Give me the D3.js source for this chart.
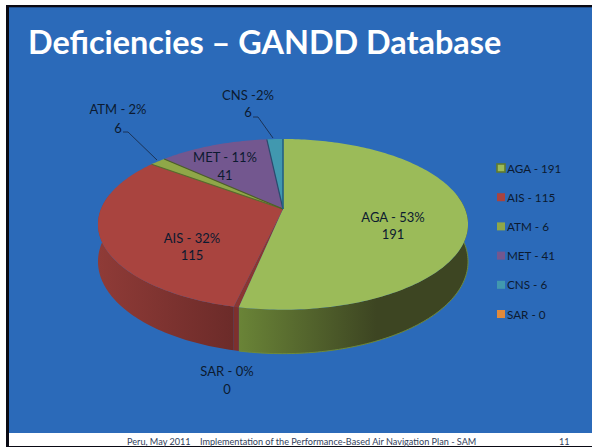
<!DOCTYPE html>
<html><head><meta charset="utf-8">
<script src="https://cdn.jsdelivr.net/npm/d3@7/dist/d3.min.js"></script>
<style>html,body{margin:0;padding:0;background:#fff;overflow:hidden}svg{display:block}text{font-family:Lato,"Open Sans",sans-serif}</style>
</head><body><svg id="c" width="592" height="447"></svg>
<script>
const categories=["AGA","AIS","ATM","MET","CNS","SAR"];
const values=[191,115,6,41,6,0];
const percents=[53,32,2,11,2,0];
const colors=["#9bbb59","#a9443f","#8fa748","#73578f","#4198af","#e08a3c"];
const wallLeft=["#6a8437","#8f3b37","#6a8437","#5a4470","#2f7a8e","#b06a2a"];
const wallRight=["#3d4522","#6c2b29","#3d4522","#3f3050","#205060","#804a1c"];
const titleText="Deficiencies – GANDD Database";
const footerText="Peru, May 2011    Implementation of the Performance-Based Air Navigation Plan - SAM";
const pageNumber="11";

const W=592,H=447,svg=d3.select("#c");
const cx=283,cy=209,rx=182,ry=82.6,k=0.18,depth=36;
svg.append("rect").attr("width",W).attr("height",H).attr("fill","#fff");
svg.append("rect").attr("x",9).attr("y",7).attr("width",W-9).attr("height",426).attr("fill","#2b6ab9");
svg.append("rect").attr("x",6).attr("y",5).attr("width",W-6).attr("height",2.3).attr("fill","#0a0a14");
svg.append("rect").attr("x",6).attr("y",5).attr("width",3).attr("height",H-5).attr("fill","#0a0a14");
svg.append("rect").attr("x",6).attr("y",446).attr("width",W).attr("height",1).attr("fill","#0a0a14");
svg.append("text").attr("x",28).attr("y",54).attr("fill","#fff").attr("font-size",32.4).attr("font-weight",700).text(titleText);

function proj(a,r=1,d=0){const u=r*Math.sin(a),v=-r*Math.cos(a),s=1/(1-k*v);
  return [cx+rx*u*s, cy+(ry*v+d)*s];}
const line=d3.line();
function arcPts(a0,a1,d=0){const n=Math.max(2,Math.ceil((a1-a0)/0.02));
  return d3.range(n+1).map(i=>proj(a0+(a1-a0)*i/n,1,d));}

const pie=d3.pie().sort(null).value((d,i)=>values[i]);
const arcs=pie(categories);
const defs=svg.append("defs");
const gap=0.024; // the cut face between AGA and AIS

// walls (front half only)
arcs.forEach((s,i)=>{
  const start=i==1?s.startAngle+gap:s.startAngle;
  const a0=Math.max(start,Math.PI/2-0.19), a1=Math.min(s.endAngle,3*Math.PI/2+0.19);
  if(a1<=a0) return;
  const top=arcPts(a0,a1,0),bot=arcPts(a0,a1,depth).reverse();
  const id="w"+i;
  const xs=top.map(p=>p[0]);
  const g=defs.append("linearGradient").attr("id",id).attr("gradientUnits","userSpaceOnUse")
    .attr("x1",d3.min(xs)).attr("x2",d3.max(xs)).attr("y1",0).attr("y2",0);
  g.append("stop").attr("offset",0).attr("stop-color",wallLeft[i]);
  g.append("stop").attr("offset",i==0?0.6:1).attr("stop-color",wallRight[i]);
  svg.append("path").attr("d",line(top.concat(bot))+"Z").attr("fill",`url(#${id})`);
});
svg.append("path").attr("d",line(arcPts(Math.PI/2-0.19,arcs[0].endAngle,depth))).attr("fill","none").attr("stroke","#6f8a38").attr("stroke-width",1);

// cut face between AGA and AIS
const e0=arcs[0].endAngle;
svg.append("path").attr("d",line([proj(e0),proj(e0,1,depth),proj(e0+gap,1,depth),proj(e0+gap)])+"Z").attr("fill","#7d302d");
svg.append("path").attr("d",line([[cx,cy],proj(e0),proj(e0+gap)])+"Z").attr("fill","#8a3632");

// top faces
arcs.forEach((s,i)=>{
  if(s.endAngle-s.startAngle<=0) return;
  const start=i==1?s.startAngle+gap:s.startAngle;
  const pts=[[cx,cy]].concat(arcPts(start,s.endAngle));
  svg.append("path").attr("d",line(pts)+"Z").attr("fill",colors[i]);
});
// seams
arcs.forEach((s,i)=>{
  if(s.endAngle-s.startAngle<=0||i==0) return;
  svg.append("path").attr("d",line([[cx,cy],proj(s.endAngle)])).attr("fill","none")
    .attr("stroke",i==1?"#5a6a2c":i==2?"#4e5f25":"#2c4a6e").attr("stroke-width",1.2);
});
svg.append("path").attr("d",line([[cx,cy],proj(0)])).attr("stroke","#1f6f92").attr("stroke-width",1).attr("fill","none");

// labels
const labelPos={AGA:[393,222,239],AIS:[192,242.5,259.5],ATM:[118,113.5,132.5],MET:[225,161.5,179.5],CNS:[248,99.5,116.5],SAR:[227,375.5,393.5]};
const labelSep={ATM:" - ",CNS:" -",AGA:" - ",AIS:" - ",MET:" - ",SAR:" - "};
categories.forEach((c,i)=>{
  const [x,y1,y2]=labelPos[c];
  svg.append("text").attr("x",x).attr("y",y1).attr("text-anchor","middle").attr("font-size",13).attr("fill","#0c1a30").text(`${c}${labelSep[c]}${percents[i]}%`);
  svg.append("text").attr("x",x).attr("y",y2).attr("text-anchor","middle").attr("font-size",13).attr("fill","#0c1a30").text(values[i]);
});
// leader lines
svg.append("path").attr("d",line([[123,132],[128,132],[157,160]])).attr("fill","none").attr("stroke","#16253d").attr("stroke-width",.8);
svg.append("path").attr("d",line([[253,117],[258,117],[273,138]])).attr("fill","none").attr("stroke","#16253d").attr("stroke-width",.8);

// legend
const ly=d3.scalePoint().domain(categories).range([168,314]);
categories.forEach((c,i)=>{
  const y=ly(c);
  svg.append("rect").attr("x",497).attr("y",y-4).attr("width",8).attr("height",8).attr("fill",colors[i]);
  svg.append("text").attr("x",507).attr("y",y+4.5).attr("font-size",11.7).attr("fill","#0c1a30").text(`${c} - ${values[i]}`);
});
svg.append("rect").attr("x",497).attr("y",164).attr("width",8).attr("height",8).attr("fill","none").attr("stroke","#5f7a30").attr("stroke-width",1.6);

// footer
svg.append("text").attr("x",127).attr("y",445).attr("font-size",9.13).attr("fill","#333f5c").style("white-space","pre").text(footerText);
svg.append("text").attr("x",559).attr("y",445).attr("font-size",9.13).attr("fill","#333f5c").text(pageNumber);
</script></body></html>
